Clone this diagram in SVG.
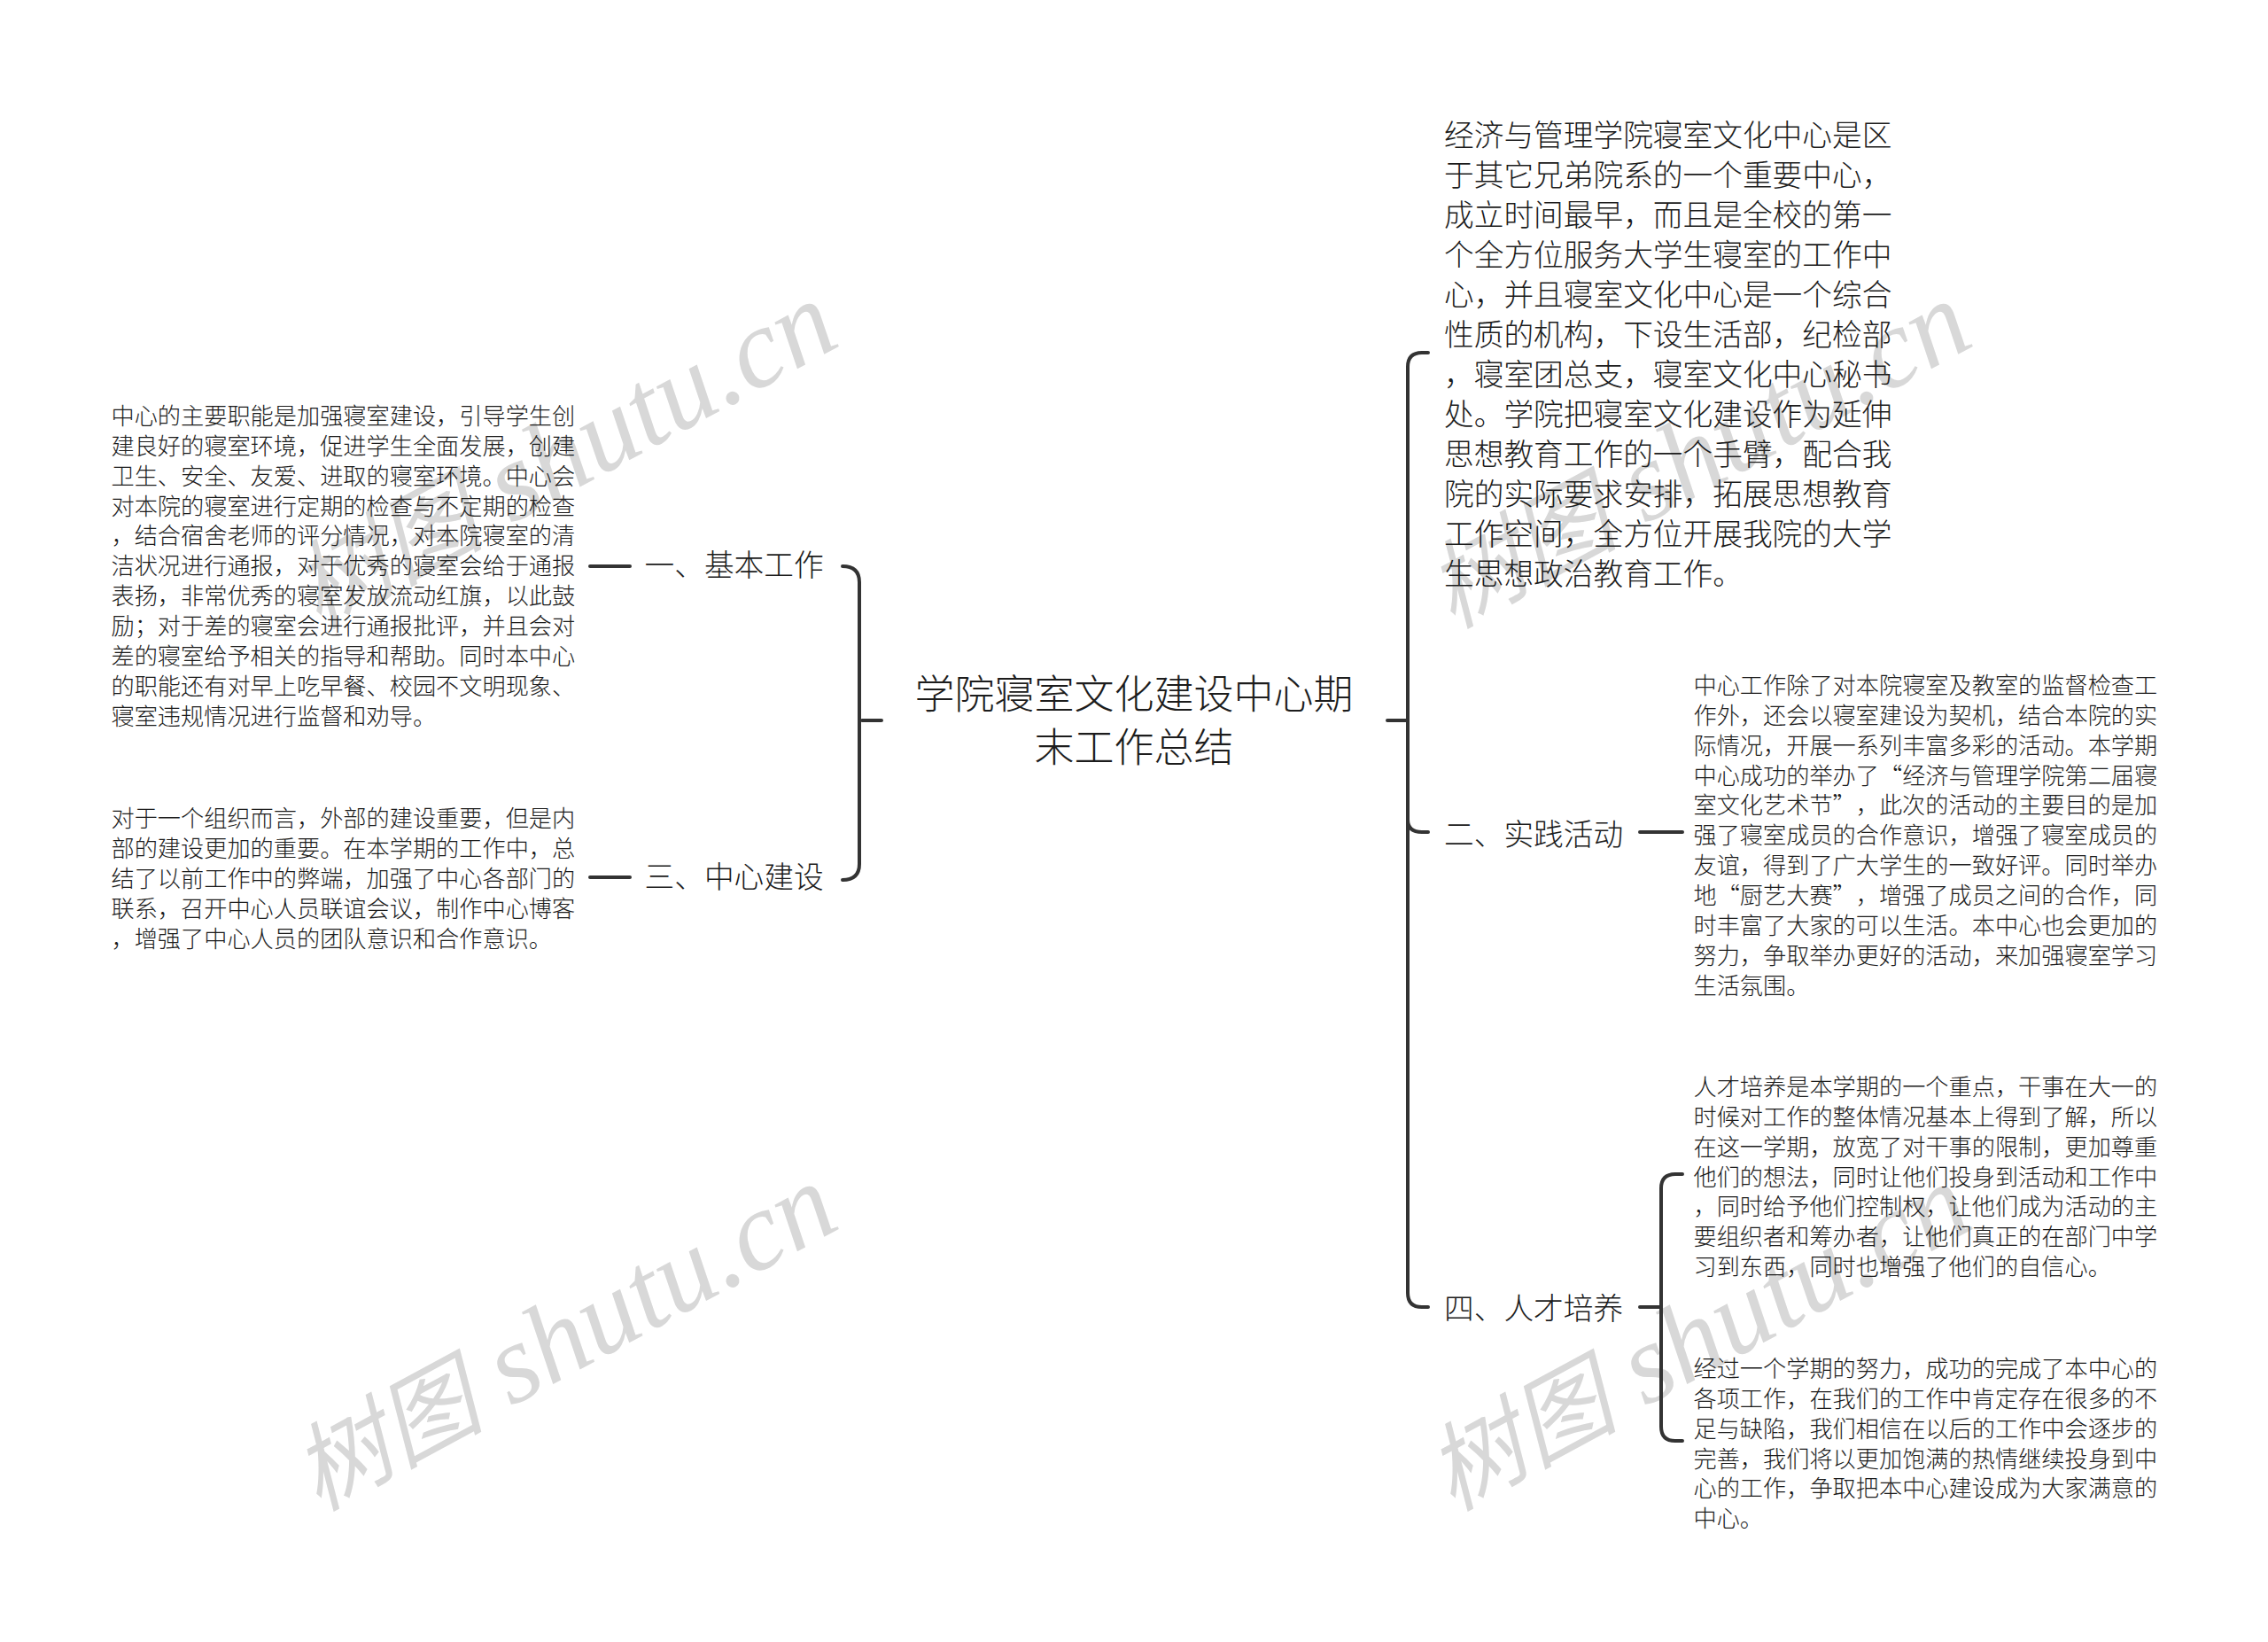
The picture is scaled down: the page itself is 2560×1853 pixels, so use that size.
<svg xmlns="http://www.w3.org/2000/svg" width="2560" height="1853" viewBox="0 0 2560 1853">
<style>
text{font-family:"Noto Sans CJK SC","Noto Sans",sans-serif;font-weight:300;fill:#1c1c1c}
.s{font-size:26.2px}
.m{font-size:33.7px}
.c{font-size:45px;text-anchor:middle}
.w{font-family:"Liberation Serif","Noto Sans CJK SC",serif;font-style:italic;font-weight:400;font-size:127px;fill:#d8d8d8}
.wc{font-family:"Noto Sans CJK SC",serif;font-size:108px;font-weight:400}
.l{fill:none;stroke:#333;stroke-width:4;stroke-linecap:round}
</style>
<rect width="2560" height="1853" fill="#fff"/>
<g id="watermarks">
<text class="w" transform="translate(359 710) rotate(-28.5)"><tspan class="wc">树图</tspan> shutu.cn</text>
<text class="w" transform="translate(359 1706) rotate(-28.5)"><tspan class="wc">树图</tspan> shutu.cn</text>
<text class="w" transform="translate(1639 710) rotate(-28.5)"><tspan class="wc">树图</tspan> shutu.cn</text>
<text class="w" transform="translate(1639 1706) rotate(-28.5)"><tspan class="wc">树图</tspan> shutu.cn</text>
</g>
<g id="connectors">
<path class="l" d="M995 813H973M951 639Q970 639 970 657V975Q970 993 951 993M666 639H711M666 990H711"/>
<path class="l" d="M1566 813H1589M1612 398H1605Q1589 398 1589 414V1459Q1589 1475 1605 1475H1612M1589 925Q1589 939 1605 939H1612M1851 939H1899"/>
<path class="l" d="M1851 1475H1875M1899 1325H1891Q1875 1325 1875 1341V1610Q1875 1626 1891 1626H1899"/>
</g>
<g id="root"><text class="c"><tspan x="1280" y="800">学院寝室文化建设中心期</tspan><tspan x="1280" y="860">末工作总结</tspan></text></g>
<g id="n1"><text class="m" x="727.5" y="650">一、基本工作</text></g>
<g id="n3"><text class="m" x="727.5" y="1002">三、中心建设</text></g>
<g id="n2"><text class="m" x="1630" y="954">二、实践活动</text></g>
<g id="n4"><text class="m" x="1630" y="1489">四、人才培养</text></g>
<g id="t0"><text class="m"><tspan x="1630" y="165">经济与管理学院寝室文化中心是区</tspan><tspan x="1630" y="210">于其它兄弟院系的一个重要中心，</tspan><tspan x="1630" y="255">成立时间最早，而且是全校的第一</tspan><tspan x="1630" y="300">个全方位服务大学生寝室的工作中</tspan><tspan x="1630" y="345">心，并且寝室文化中心是一个综合</tspan><tspan x="1630" y="390">性质的机构，下设生活部，纪检部</tspan><tspan x="1630" y="435">，寝室团总支，寝室文化中心秘书</tspan><tspan x="1630" y="480">处。学院把寝室文化建设作为延伸</tspan><tspan x="1630" y="525">思想教育工作的一个手臂，配合我</tspan><tspan x="1630" y="570">院的实际要求安排，拓展思想教育</tspan><tspan x="1630" y="615">工作空间，全方位开展我院的大学</tspan><tspan x="1630" y="660">生思想政治教育工作。</tspan></text></g>
<g id="t1"><text class="s"><tspan x="125.5" y="478.5">中心的主要职能是加强寝室建设，引导学生创</tspan><tspan x="125.5" y="512.5">建良好的寝室环境，促进学生全面发展，创建</tspan><tspan x="125.5" y="546.5">卫生、安全、友爱、进取的寝室环境。中心会</tspan><tspan x="125.5" y="580.5">对本院的寝室进行定期的检查与不定期的检查</tspan><tspan x="125.5" y="613.5">，结合宿舍老师的评分情况，对本院寝室的清</tspan><tspan x="125.5" y="647.5">洁状况进行通报，对于优秀的寝室会给于通报</tspan><tspan x="125.5" y="681.5">表扬，非常优秀的寝室发放流动红旗，以此鼓</tspan><tspan x="125.5" y="715.5">励；对于差的寝室会进行通报批评，并且会对</tspan><tspan x="125.5" y="749.5">差的寝室给予相关的指导和帮助。同时本中心</tspan><tspan x="125.5" y="783.5">的职能还有对早上吃早餐、校园不文明现象、</tspan><tspan x="125.5" y="817.5">寝室违规情况进行监督和劝导。</tspan></text></g>
<g id="t3"><text class="s"><tspan x="125.5" y="932.5">对于一个组织而言，外部的建设重要，但是内</tspan><tspan x="125.5" y="966.5">部的建设更加的重要。在本学期的工作中，总</tspan><tspan x="125.5" y="1000.5">结了以前工作中的弊端，加强了中心各部门的</tspan><tspan x="125.5" y="1034.5">联系，召开中心人员联谊会议，制作中心博客</tspan><tspan x="125.5" y="1068.5">，增强了中心人员的团队意识和合作意识。</tspan></text></g>
<g id="t2"><text class="s"><tspan x="1911.5" y="783">中心工作除了对本院寝室及教室的监督检查工</tspan><tspan x="1911.5" y="817">作外，还会以寝室建设为契机，结合本院的实</tspan><tspan x="1911.5" y="851">际情况，开展一系列丰富多彩的活动。本学期</tspan><tspan x="1911.5" y="885">中心成功的举办了“经济与管理学院第二届寝</tspan><tspan x="1911.5" y="918">室文化艺术节”<tspan dx="13">，</tspan>此次的活动的主要目的是加</tspan><tspan x="1911.5" y="952">强了寝室成员的合作意识，增强了寝室成员的</tspan><tspan x="1911.5" y="986">友谊，得到了广大学生的一致好评。同时举办</tspan><tspan x="1911.5" y="1020">地“厨艺大赛”<tspan dx="13">，</tspan>增强了成员之间的合作，同</tspan><tspan x="1911.5" y="1054">时丰富了大家的可以生活。本中心也会更加的</tspan><tspan x="1911.5" y="1088">努力，争取举办更好的活动，来加强寝室学习</tspan><tspan x="1911.5" y="1122">生活氛围。</tspan></text></g>
<g id="t4a"><text class="s"><tspan x="1911.5" y="1235.5">人才培养是本学期的一个重点，干事在大一的</tspan><tspan x="1911.5" y="1269.5">时候对工作的整体情况基本上得到了解，所以</tspan><tspan x="1911.5" y="1303.5">在这一学期，放宽了对干事的限制，更加尊重</tspan><tspan x="1911.5" y="1337.5">他们的想法，同时让他们投身到活动和工作中</tspan><tspan x="1911.5" y="1370.5">，同时给予他们控制权，让他们成为活动的主</tspan><tspan x="1911.5" y="1404.5">要组织者和筹办者，让他们真正的在部门中学</tspan><tspan x="1911.5" y="1438.5">习到东西，同时也增强了他们的自信心。</tspan></text></g>
<g id="t4b"><text class="s"><tspan x="1911.5" y="1553.5">经过一个学期的努力，成功的完成了本中心的</tspan><tspan x="1911.5" y="1587.5">各项工作，在我们的工作中肯定存在很多的不</tspan><tspan x="1911.5" y="1621.5">足与缺陷，我们相信在以后的工作中会逐步的</tspan><tspan x="1911.5" y="1655.5">完善，我们将以更加饱满的热情继续投身到中</tspan><tspan x="1911.5" y="1688.5">心的工作，争取把本中心建设成为大家满意的</tspan><tspan x="1911.5" y="1722.5">中心。</tspan></text></g>
</svg>
